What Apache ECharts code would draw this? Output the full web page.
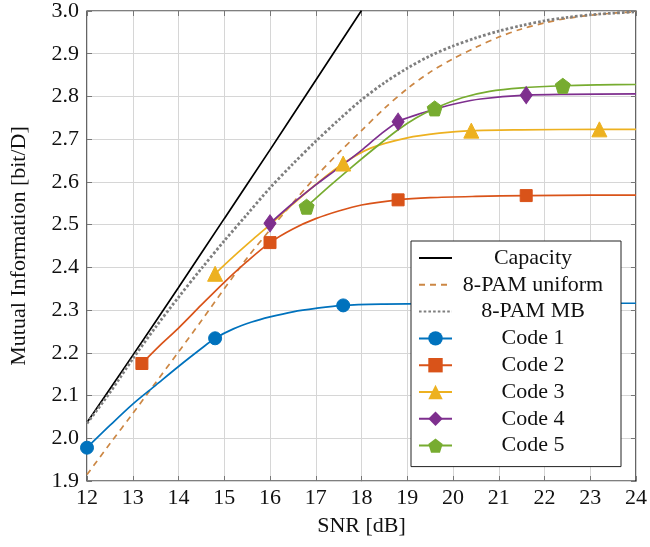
<!DOCTYPE html>
<html>
<head>
<meta charset="utf-8">
<script src="https://cdn.jsdelivr.net/npm/echarts@6/dist/echarts.min.js"></script>
<style>
 html, body { margin: 0; padding: 0; background: #fff; }
 #chart { width: 650px; height: 547px; }
</style>
</head>
<body>
<div id="chart"></div>
<script>
const FONT = 'Liberation Serif';

// capacity
const capSnr = [12, 13, 14, 15, 16, 17, 18];
const capMi = [2.037, 2.194, 2.353, 2.514, 2.675, 2.838, 3.001];

// 8-PAM uniform and MB share the same SNR grid
const pamSnr = [12, 12.5, 13, 13.5, 14, 14.5, 15, 15.5, 16, 16.5, 17, 17.5, 18, 18.5, 19, 19.5, 20, 20.5, 21, 21.5, 22, 22.5, 23, 23.5, 24];
const uniMi = [1.915, 1.987, 2.058, 2.13, 2.202, 2.275, 2.35, 2.422, 2.488, 2.551, 2.612, 2.668, 2.72, 2.772, 2.818, 2.857, 2.888, 2.915, 2.939, 2.958, 2.972, 2.983, 2.99, 2.995, 2.998];
const mbMi = [2.035, 2.107, 2.186, 2.26, 2.33, 2.397, 2.462, 2.524, 2.586, 2.642, 2.695, 2.745, 2.792, 2.832, 2.866, 2.895, 2.918, 2.937, 2.953, 2.966, 2.977, 2.985, 2.991, 2.995, 2.998];

const code1Snr = [12, 12.5, 13, 13.5, 14, 14.5, 14.8, 15.2, 15.6, 16, 16.5, 17, 17.6, 18.5, 19.5, 20.4, 22, 23.2, 24];
const code1Mi = [1.978, 2.03, 2.08, 2.124, 2.168, 2.21, 2.234, 2.256, 2.272, 2.284, 2.296, 2.304, 2.311, 2.314, 2.315, 2.315, 2.316, 2.316, 2.316];
const code1Marks = [12, 14.8, 17.6, 20.4, 23.2];

const code2Snr = [13.2, 13.6, 14, 14.5, 15, 15.5, 16, 16.5, 17, 17.5, 18, 18.8, 19.5, 20.5, 21.6, 23, 24];
const code2Mi = [2.175, 2.218, 2.258, 2.312, 2.365, 2.414, 2.458, 2.49, 2.514, 2.532, 2.546, 2.558, 2.563, 2.566, 2.568, 2.569, 2.569];
const code2Marks = [13.2, 16, 18.8, 21.6];

const code3Snr = [14.8, 15.2, 15.6, 16, 16.5, 17, 17.6, 18.2, 19, 19.7, 20.4, 21.5, 23.2, 24];
const code3Mi = [2.385, 2.425, 2.463, 2.5, 2.548, 2.594, 2.643, 2.679, 2.703, 2.714, 2.72, 2.722, 2.723, 2.723];
const code3Marks = [14.8, 17.6, 20.4, 23.2];

const code4Snr = [16, 16.5, 17, 17.5, 18, 18.4, 18.8, 19.2, 19.6, 20.1, 20.6, 21.6, 22.5, 24];
const code4Mi = [2.503, 2.55, 2.593, 2.633, 2.674, 2.71, 2.741, 2.757, 2.77, 2.784, 2.794, 2.803, 2.805, 2.806];
const code4Marks = [16, 18.8, 21.6];

const code5Snr = [16.8, 17.3, 17.8, 18.3, 18.8, 19.2, 19.6, 20.2, 20.8, 21.5, 22.4, 23.2, 24];
const code5Mi = [2.542, 2.59, 2.636, 2.68, 2.722, 2.75, 2.772, 2.797, 2.812, 2.82, 2.825, 2.827, 2.828];
const code5Marks = [16.8, 19.6, 22.4];

const legendNames = ['Capacity', '8-PAM uniform', '8-PAM MB', 'Code 1', 'Code 2', 'Code 3', 'Code 4', 'Code 5'];

const pentagon = 'path://M0,-1 L0.951,-0.309 L0.588,0.809 L-0.588,0.809 L-0.951,-0.309 Z';

const zip = (xs, ys) => xs.map((x, i) => [x, ys[i]]);

const plainLine = (name, xs, ys, color, type, width) => ({
 name,
 type: 'line',
 data: zip(xs, ys),
 smooth: 0.3,
 symbol: 'none',
 lineStyle: { color, width, type },
 itemStyle: { color },
 z: 2,
});

const codeLine = (name, xs, ys, marks, color, symbol, size) => ({
 name,
 type: 'line',
 data: zip(xs, ys),
 smooth: 0.3,
 symbol,
 showSymbol: true,
 symbolSize: (val) => (marks.includes(val[0]) ? size : 0),
 lineStyle: { color, width: 1.7 },
 itemStyle: { color, borderColor: color },
 z: 3,
});

const tickStyle = { inside: true, length: 5, lineStyle: { color: '#777' } };

const chart = echarts.init(document.getElementById('chart'), null, { renderer: 'canvas' });

chart.setOption({
 animation: false,
 backgroundColor: '#fff',
 grid: {
  left: 83,
  right: 11,
  top: 11,
  bottom: 66,
  show: true,
  borderColor: '#000',
  borderWidth: 1.2,
 },
 legend: {
  orient: 'vertical',
  left: 411,
  top: 241,
  padding: [6, 10, 10, 7],
  itemWidth: 33,
  itemHeight: 18,
  itemGap: 4.8,
  backgroundColor: '#fff',
  borderColor: '#222',
  borderWidth: 1,
  formatter: '{t|{name}}',
  textStyle: {
   fontFamily: FONT,
   fontSize: 22,
   color: '#111',
   padding: [0, 0, 0, -2],
   rich: {
    t: { width: 156, align: 'center', fontFamily: FONT, fontSize: 22, lineHeight: 22, color: '#111' },
   },
  },
  // the first three rows show only the line, no marker
  data: legendNames.map((name, i) => (i < 3 ? { name, itemStyle: { opacity: 0 } } : name)),
 },
 xAxis: [
  {
   type: 'value',
   min: 12,
   max: 24,
   interval: 1,
   name: 'SNR [dB]',
   nameLocation: 'middle',
   nameGap: 34,
   nameTextStyle: { fontFamily: FONT, fontSize: 22, color: '#111' },
   axisLine: { show: false },
   axisTick: tickStyle,
   axisLabel: { fontFamily: FONT, fontSize: 22, color: '#111', margin: 6 },
   splitLine: { lineStyle: { color: '#d6d6d6', width: 1 } },
  },
  {
   type: 'value',
   position: 'top',
   min: 12,
   max: 24,
   interval: 1,
   axisLine: { show: false },
   axisTick: tickStyle,
   axisLabel: { show: false },
   splitLine: { show: false },
  },
 ],
 yAxis: [
  {
   type: 'value',
   min: 1.9,
   max: 3.0,
   interval: 0.1,
   name: 'Mutual Information [bit/D]',
   nameLocation: 'middle',
   nameGap: 57,
   nameTextStyle: { fontFamily: FONT, fontSize: 22, color: '#111' },
   axisLine: { show: false },
   axisTick: tickStyle,
   axisLabel: {
    fontFamily: FONT,
    fontSize: 22,
    color: '#111',
    margin: 8,
    formatter: (v) => v.toFixed(1),
   },
   splitLine: { lineStyle: { color: '#d6d6d6', width: 1 } },
  },
  {
   type: 'value',
   position: 'right',
   min: 1.9,
   max: 3.0,
   interval: 0.1,
   axisLine: { show: false },
   axisTick: tickStyle,
   axisLabel: { show: false },
   splitLine: { show: false },
  },
 ],
 series: [
  plainLine('Capacity', capSnr, capMi, '#000', 'solid', 1.7),
  plainLine('8-PAM uniform', pamSnr, uniMi, '#cc8744', [6, 5], 1.7),
  plainLine('8-PAM MB', pamSnr, mbMi, '#7f7f7f', [2.6, 2.1], 2.8),
  codeLine('Code 1', code1Snr, code1Mi, code1Marks, '#0072bd', 'circle', 13),
  codeLine('Code 2', code2Snr, code2Mi, code2Marks, '#d95319', 'rect', 12),
  codeLine('Code 3', code3Snr, code3Mi, code3Marks, '#edb120', 'triangle', 15),
  codeLine('Code 4', code4Snr, code4Mi, code4Marks, '#7e2f8e', 'diamond', [12, 17]),
  codeLine('Code 5', code5Snr, code5Mi, code5Marks, '#77ac30', pentagon, 15),
 ],
});
</script>
</body>
</html>
